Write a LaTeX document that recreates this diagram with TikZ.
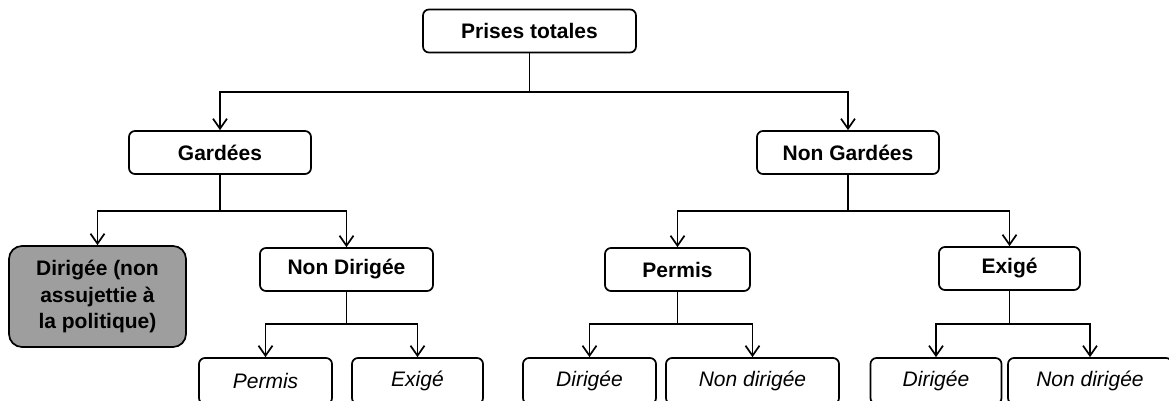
\documentclass[tikz,border=0pt]{standalone}
\usepackage{fontspec}
\setmainfont{Liberation Sans}
\usetikzlibrary{arrows.meta}
\definecolor{boxgray}{RGB}{158,158,158}
\tikzset{
  box/.style={draw=black, line width=1.7pt, rounded corners=6pt, inner sep=0pt, minimum height=43pt, align=center, fill=white},
  upper/.style={box, font=\fontsize{21}{24}\selectfont\bfseries},
  lower/.style={box, minimum height=46pt, font=\fontsize{21}{24}\selectfont\itshape},
  conn/.style={line width=1.7pt},
  arr/.style={conn, -{Straight Barb[length=10pt,width=14pt]}},
}
\begin{document}
\begin{tikzpicture}[x=1pt,y=-1pt]
\path[use as bounding box, clip] (0,0) rectangle (1169,400);
\fill[white] (0,0) rectangle (1169,400);
% nodes
\node[upper, minimum width=213pt] (top) at (529.5,31) {Prises totales};
\node[upper, minimum width=182pt] (gard) at (220,152.5) {Gardées};
\node[upper, minimum width=182pt] (ngard) at (848,152.5) {Non Gardées};
\node[box, fill=boxgray, rounded corners=13pt, minimum width=177pt, minimum height=101pt,
      font=\fontsize{21}{26.5}\selectfont\bfseries] (dir) at (97.5,296.5)
      {Dirigée (non\\assujettie à\\la politique)};
\node[upper, minimum width=173pt] (ndir) at (346.5,269.5) {Non Dirigée};
\node[upper, minimum width=145pt] (perm) at (677.5,269.5) {Permis};
\node[upper, minimum width=141pt] (exig) at (1009.5,268.5) {Exigé};
\node[lower, minimum width=133pt] (b1) at (265.5,381) {Permis};
\node[lower, minimum width=131pt] (b2) at (417.5,381) {Exigé};
\node[lower, minimum width=133pt] (b3) at (589.5,381) {Dirigée};
\node[lower, minimum width=173pt] (b4) at (752.5,381) {Non dirigée};
\node[lower, minimum width=131pt] (b5) at (936,381) {Dirigée};
\node[lower, minimum width=164pt] (b6) at (1090,381) {Non dirigée};
% junctions
\coordinate (j1) at (529.5,92);
\coordinate (j2) at (220,211);
\coordinate (j3) at (848,211);
\coordinate (j4) at (346.5,324);
\coordinate (j5) at (677.5,324);
\coordinate (j6) at (1009.5,324);
% connectors
\draw[conn] (top.south) -- (j1);
\draw[arr] (j1) -| (gard.north);
\draw[arr] (j1) -| (ngard.north);
\draw[conn] (gard.south) -- (j2);
\draw[arr] (j2) -| (dir.north);
\draw[arr] (j2) -| (ndir.north);
\draw[conn] (ngard.south) -- (j3);
\draw[arr] (j3) -| (perm.north);
\draw[arr] (j3) -| (exig.north);
\draw[conn] (ndir.south) -- (j4);
\draw[arr] (j4) -| (b1.north);
\draw[arr] (j4) -| (b2.north);
\draw[conn] (perm.south) -- (j5);
\draw[arr] (j5) -| (b3.north);
\draw[arr] (j5) -| (b4.north);
\draw[conn] (exig.south) -- (j6);
\draw[arr] (j6) -| (b5.north);
\draw[arr] (j6) -| (b6.north);
\end{tikzpicture}
\end{document}
